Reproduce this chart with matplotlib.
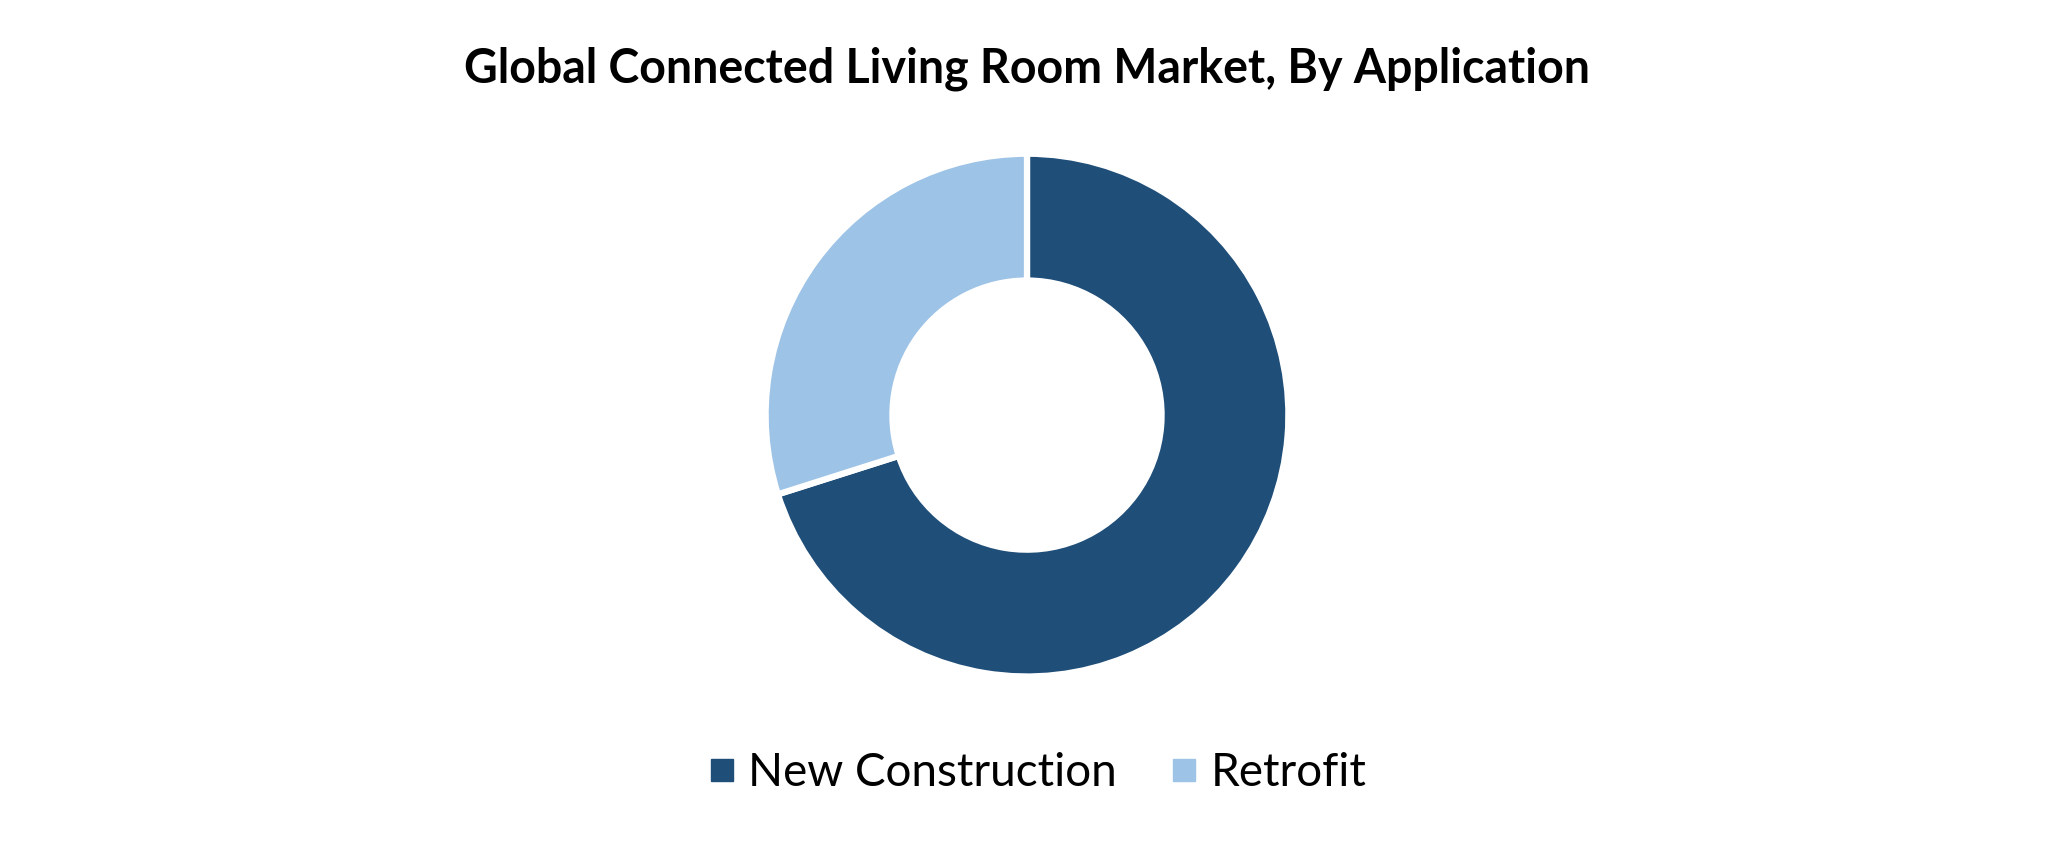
import matplotlib
matplotlib.use("Agg")
import matplotlib.pyplot as plt
from matplotlib.lines import Line2D

categories = ["New Construction", "Retrofit"]
shares = [70.1, 29.9]
colors = ["#1F4E79", "#9DC3E6"]
title = "Global Connected Living Room Market, By Application"

fig = plt.figure(figsize=(20.54, 8.42), dpi=100)
fig.patch.set_facecolor("white")

ax = fig.add_axes([0.5 - 0.126, 0.507 - 0.3077, 0.252, 0.6154])
ax.pie(shares, colors=colors, startangle=90, counterclock=False, radius=1.01,
       wedgeprops=dict(width=0.49, edgecolor="white", linewidth=4.5))
ax.set_xlim(-1, 1)
ax.set_ylim(-1, 1)
ax.set_aspect("equal")
ax.axis("off")

fig.text(0.5, 0.918, title, ha="center", va="center", fontsize=33.5,
         fontweight="bold", family=["Lato", "DejaVu Sans"])

handles = [Line2D([0], [0], marker="s", linestyle="none", markersize=15.5,
                  markerfacecolor=c, markeredgecolor=c) for c in colors]
fig.legend(handles, categories, loc="center", bbox_to_anchor=(0.505, 0.082),
           ncol=2, frameon=False, handlelength=0.6, handletextpad=0.28,
           columnspacing=1.16, prop=dict(family=["Lato", "DejaVu Sans"], size=33))

fig.savefig("out.png", dpi=100, facecolor="white")
